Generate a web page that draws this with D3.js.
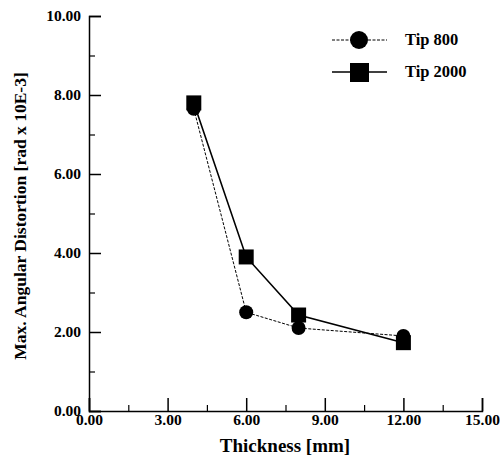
<!DOCTYPE html>
<html><head><meta charset="utf-8">
<script src="https://cdn.jsdelivr.net/npm/d3@7"></script>
<style>body{margin:0;background:#fff}svg{display:block}text{font-family:"Liberation Serif","Times New Roman",serif;font-weight:bold;fill:#000}</style>
</head><body>
<script>
const thickness = [4, 6, 8, 12];
const tip800 = [7.65, 2.5, 2.1, 1.9];
const tip2000 = [7.8, 3.9, 2.43, 1.73];
const xTicks = [0, 3, 6, 9, 12, 15];
const yTicks = [0, 2, 4, 6, 8, 10];
const xMinor = [1.5, 4.5, 7.5, 10.5, 13.5];
const yMinor = [1, 3, 5, 7, 9];
const seriesNames = ["Tip 800", "Tip 2000"];

const W = 500, H = 459;
const svg = d3.select("body").append("svg").attr("width", W).attr("height", H);
const x = d3.scaleLinear().domain([0, 15]).range([89, 482]);
const y = d3.scaleLinear().domain([0, 10]).range([411, 16]);

// axes
const xAxis = d3.axisBottom(x).tickValues(xTicks).tickSize(-13).tickFormat(d3.format(".2f"));
const gx = svg.append("g").attr("transform", "translate(0,411)").call(xAxis);
gx.select(".domain").attr("stroke-width", 1.5);
gx.selectAll(".tick line").attr("stroke-width", 1.5);
gx.selectAll("text").attr("font-size", 15.5).attr("y", 14).attr("dy", 0);
svg.append("g").attr("transform", "translate(0,411)")
  .call(d3.axisBottom(x).tickValues(xMinor).tickSize(-6).tickFormat(""))
  .call(g => { g.select(".domain").remove(); g.selectAll("line").attr("stroke-width", 1.2); });

const yAxis = d3.axisLeft(y).tickValues(yTicks).tickSize(-12).tickFormat(d3.format(".2f"));
const gy = svg.append("g").attr("transform", "translate(89,0)").call(yAxis);
gy.select(".domain").attr("stroke-width", 1.5);
gy.selectAll(".tick line").attr("stroke-width", 1.5);
gy.selectAll("text").attr("font-size", 15.5).attr("x", -8).attr("dy", "0.3em");
svg.append("g").attr("transform", "translate(89,0)")
  .call(d3.axisLeft(y).tickValues(yMinor).tickSize(-6).tickFormat(""))
  .call(g => { g.select(".domain").remove(); g.selectAll("line").attr("stroke-width", 1.2); });

// axis titles
svg.append("text").attr("x", 285).attr("y", 452).attr("text-anchor", "middle")
  .attr("font-size", 19).text("Thickness [mm]");
svg.append("text").attr("transform", "translate(26,216) rotate(-90)").attr("text-anchor", "middle")
  .attr("font-size", 17.5).text("Max. Angular Distortion [rad x 10E-3]");

// series
const line = d3.line().x(d => x(d[0])).y(d => y(d[1]));
const d800 = thickness.map((t, i) => [t, tip800[i]]);
const d2000 = thickness.map((t, i) => [t, tip2000[i]]);

svg.append("path").datum(d800).attr("d", line).attr("fill", "none")
  .attr("stroke", "#000").attr("stroke-width", 1).attr("stroke-dasharray", "3,1.5");
svg.append("path").datum(d2000).attr("d", line).attr("fill", "none")
  .attr("stroke", "#000").attr("stroke-width", 1.6);

svg.selectAll(".c800").data(d800).enter().append("circle")
  .attr("cx", d => x(d[0])).attr("cy", d => y(d[1])).attr("r", 7).attr("fill", "#000");
svg.selectAll(".s2000").data(d2000).enter().append("rect")
  .attr("x", d => x(d[0]) - 7.5).attr("y", d => y(d[1]) - 7.5)
  .attr("width", 15).attr("height", 15).attr("fill", "#000");

// legend
const lg = svg.append("g");
lg.append("line").attr("x1", 332).attr("x2", 387).attr("y1", 40).attr("y2", 40)
  .attr("stroke", "#000").attr("stroke-width", 1).attr("stroke-dasharray", "3,1.5");
lg.append("circle").attr("cx", 359).attr("cy", 40).attr("r", 9).attr("fill", "#000");
lg.append("text").attr("x", 405).attr("y", 45).attr("font-size", 16.5).text(seriesNames[0]);
lg.append("line").attr("x1", 332).attr("x2", 387).attr("y1", 72).attr("y2", 72)
  .attr("stroke", "#000").attr("stroke-width", 1.6);
lg.append("rect").attr("x", 350).attr("y", 63).attr("width", 19).attr("height", 19).attr("fill", "#000");
lg.append("text").attr("x", 405).attr("y", 77).attr("font-size", 16.5).text(seriesNames[1]);
</script>
</body></html>
